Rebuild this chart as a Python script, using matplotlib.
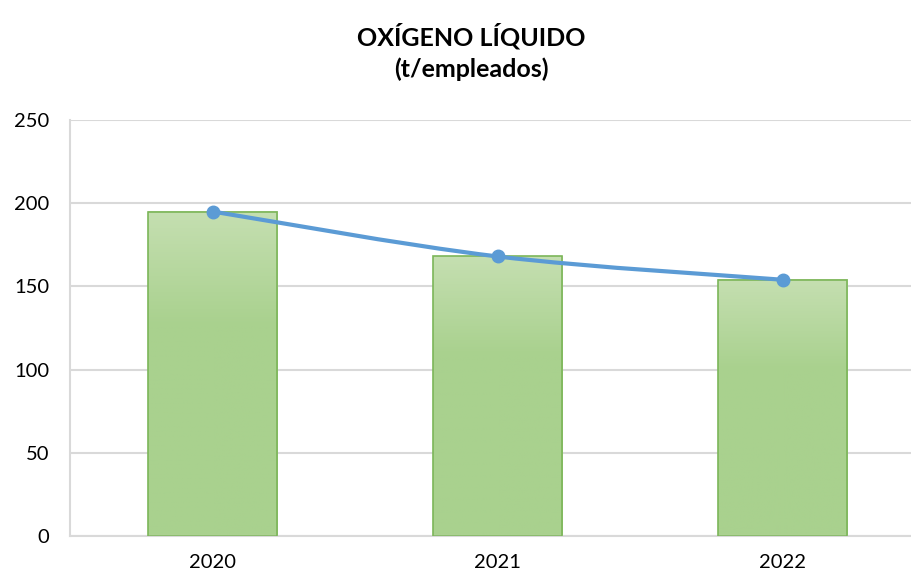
import matplotlib
matplotlib.use("Agg")
import matplotlib.pyplot as plt
import numpy as np
from matplotlib.path import Path
from matplotlib.patches import PathPatch
from matplotlib.colors import LinearSegmentedColormap

# datos
anios = ["2020", "2021", "2022"]
valores = [195, 168, 154]

plt.rcParams["font.family"] = ["Lato", "DejaVu Sans"]

fig = plt.figure(figsize=(9.11, 5.76), dpi=100)
ax = fig.add_axes([70 / 911, 40 / 576, 855 / 911, 416 / 576])

x = np.arange(len(anios))
ancho = 0.456

# degradado de las barras (claro arriba -> verde abajo)
cmap = LinearSegmentedColormap.from_list("g", [(0, "#C5DFB1"), (0.35, "#A9D18E"), (1, "#A9D18E")])
grad = np.linspace(0, 1, 256).reshape(-1, 1)
for xi, v in zip(x, valores):
    ax.imshow(grad, cmap=cmap, aspect="auto", origin="upper",
              extent=(xi - ancho / 2, xi + ancho / 2, 0, v), zorder=2)
ax.bar(x, valores, width=ancho, facecolor="none", edgecolor="#7CB659", linewidth=1.2, zorder=3)

# linea suavizada (estilo Excel) con curvas Bezier entre los puntos
pts = np.column_stack([x, valores]).astype(float)
n = len(pts)
verts = [pts[0]]
codes = [Path.MOVETO]
for i in range(n - 1):
    p0 = pts[i - 1] if i > 0 else pts[i]
    p1 = pts[i]
    p2 = pts[i + 1]
    p3 = pts[i + 2] if i + 2 < n else pts[i + 1]
    c1 = p1 + (p2 - p0) / 6
    c2 = p2 - (p3 - p1) / 6
    verts += [c1, c2, p2]
    codes += [Path.CURVE4] * 3
ax.add_patch(PathPatch(Path(verts, codes), facecolor="none", edgecolor="#5B9BD5",
                       linewidth=3, capstyle="round", zorder=4))
ax.plot(x, valores, linestyle="none", marker="o", markersize=9, color="#5B9BD5", zorder=5)

ax.set_xlim(-0.5, 2.5)
ax.set_ylim(0, 250)
ax.set_yticks([0, 50, 100, 150, 200, 250])
ax.set_xticks(x)
ax.set_xticklabels(anios)
ax.yaxis.grid(True, color="#D9D9D9", linewidth=1.5, zorder=0)
ax.set_axisbelow(True)
for s in ["top", "right"]:
    ax.spines[s].set_visible(False)
for s in ["left", "bottom"]:
    ax.spines[s].set_color("#D9D9D9")
    ax.spines[s].set_linewidth(1.5)
ax.tick_params(axis="both", length=0, labelsize=14.5, colors="black")
ax.tick_params(axis="y", pad=15)
ax.tick_params(axis="x", pad=13)

fig.text(471 / 911, 1 - 52 / 576, "OXÍGENO LÍQUIDO\n(t/empleados)", ha="center", va="center",
         fontsize=18, fontweight="bold", linespacing=1.4)

fig.savefig("out.png", dpi=100)
